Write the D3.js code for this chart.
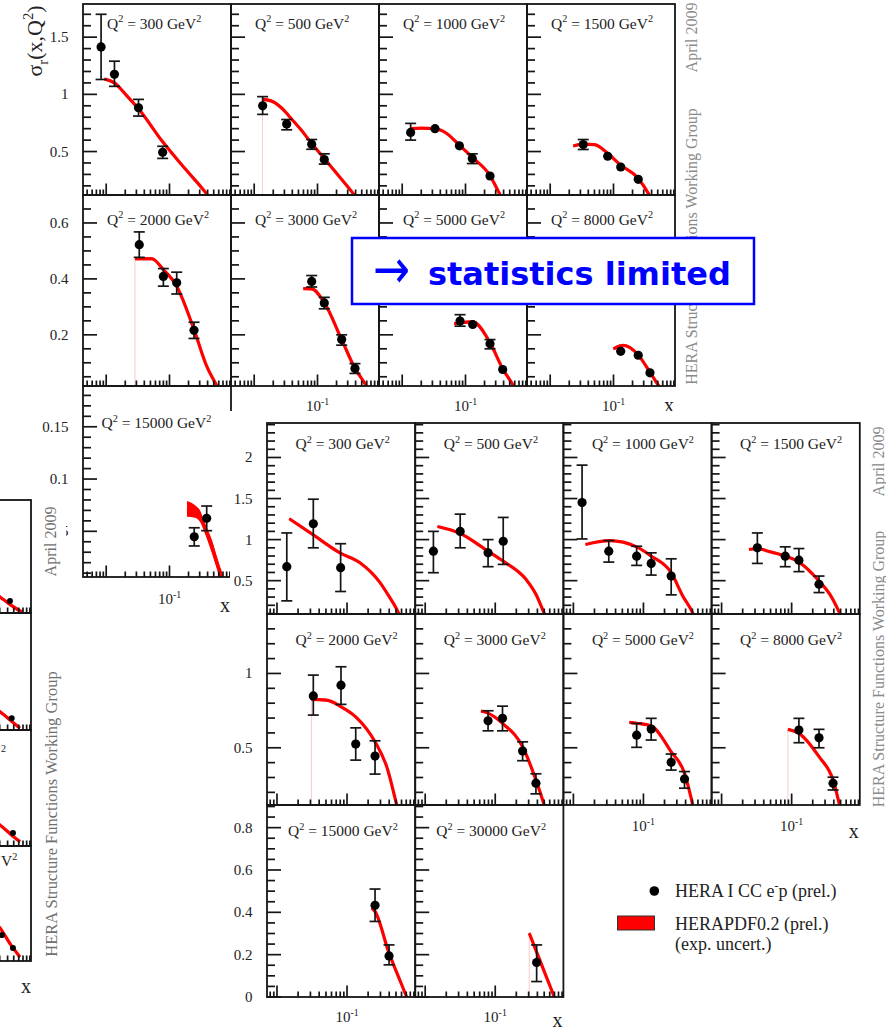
<!DOCTYPE html>
<html>
<head>
<meta charset="utf-8">
<script src="https://cdn.jsdelivr.net/npm/d3@7"></script>
<style>
  html, body { margin: 0; padding: 0; background: #fff; }
  svg { display: block; }
</style>
</head>
<body>
<svg id="chart" width="886" height="1032"></svg>
<script>
// ---------------------------------------------------------------
// HERA I charged-current reduced cross sections vs x, per Q^2 bin
// ---------------------------------------------------------------

// e+p figure
const plusQ2 = [300, 500, 1000, 1500, 2000, 3000, 5000, 8000, 15000];
// [Q2, x, sigma_r, lower, upper]
const plusPoints = [
  [300, 0.0083, 1.415, 1.13, 1.70],
  [300, 0.0135, 1.175, 1.07, 1.29],
  [300, 0.0324, 0.883, 0.81, 0.956],
  [300, 0.078, 0.494, 0.44, 0.546],
  [500, 0.0136, 0.90, 0.825, 0.98],
  [500, 0.0326, 0.74, 0.69, 0.78],
  [500, 0.081, 0.564, 0.52, 0.605],
  [500, 0.128, 0.43, 0.39, 0.48],
  [1000, 0.0136, 0.667, 0.60, 0.746],
  [1000, 0.033, 0.70, 0.667, 0.74],
  [1000, 0.080, 0.55, 0.54, 0.56],
  [1000, 0.128, 0.44, 0.395, 0.48],
  [1000, 0.244, 0.286, 0.25, 0.32],
  [1500, 0.0333, 0.561, 0.518, 0.605],
  [1500, 0.081, 0.459, 0.43, 0.483],
  [1500, 0.13, 0.365, 0.33, 0.40],
  [1500, 0.246, 0.257, 0.25, 0.264],
  [2000, 0.0333, 0.5225, 0.477, 0.568],
  [2000, 0.080, 0.409, 0.374, 0.437],
  [2000, 0.13, 0.386, 0.346, 0.424],
  [2000, 0.244, 0.216, 0.187, 0.245],
  [3000, 0.081, 0.391, 0.371, 0.412],
  [3000, 0.128, 0.314, 0.293, 0.334],
  [3000, 0.241, 0.183, 0.163, 0.20],
  [3000, 0.391, 0.08, 0.062, 0.097],
  [5000, 0.082, 0.249, 0.231, 0.272],
  [5000, 0.13, 0.237, 0.221, 0.249],
  [5000, 0.244, 0.168, 0.15, 0.183],
  [5000, 0.387, 0.076, 0.072, 0.080],
  [8000, 0.13, 0.141, 0.126, 0.157],
  [8000, 0.246, 0.127, 0.115, 0.139],
  [8000, 0.377, 0.064, 0.061, 0.067],
  [15000, 0.246, 0.0448, 0.036, 0.0534],
  [15000, 0.387, 0.0624, 0.0506, 0.0742]
];
// HERAPDF0.2 band: [Q2, x, central, half-width]
const plusFit = [
  [300, 0.0094, 1.134, 0.012], [300, 0.0135, 1.10, 0.012], [300, 0.0207, 0.994, 0.012],
  [300, 0.0336, 0.863, 0.012], [300, 0.078, 0.585, 0.012], [300, 0.184, 0.338, 0.012],
  [300, 0.38, 0.134, 0.012], [300, 0.43, 0.093, 0.012],
  [500, 0.0135, 0.956, 0.012], [500, 0.018, 0.945, 0.012], [500, 0.0326, 0.835, 0.012],
  [500, 0.0368, 0.80, 0.012], [500, 0.055, 0.69, 0.012], [500, 0.081, 0.57, 0.012],
  [500, 0.128, 0.44, 0.012], [500, 0.2, 0.31, 0.012], [500, 0.37, 0.13, 0.012], [500, 0.42, 0.09, 0.012],
  [1000, 0.0134, 0.70, 0.01], [1000, 0.02, 0.705, 0.01], [1000, 0.033, 0.70, 0.01],
  [1000, 0.05, 0.66, 0.01], [1000, 0.08, 0.555, 0.01], [1000, 0.128, 0.45, 0.01],
  [1000, 0.244, 0.29, 0.01], [1000, 0.35, 0.125, 0.01], [1000, 0.40, 0.07, 0.01],
  [1500, 0.0232, 0.549, 0.01], [1500, 0.0333, 0.565, 0.01], [1500, 0.05, 0.56, 0.01],
  [1500, 0.081, 0.484, 0.01], [1500, 0.13, 0.381, 0.01], [1500, 0.246, 0.265, 0.01],
  [1500, 0.355, 0.134, 0.01], [1500, 0.40, 0.08, 0.01],
  [2000, 0.0285, 0.472, 0.005], [2000, 0.0524, 0.472, 0.005], [2000, 0.08, 0.433, 0.005],
  [2000, 0.13, 0.374, 0.005], [2000, 0.244, 0.219, 0.005], [2000, 0.387, 0.088, 0.005],
  [2000, 0.556, 0.019, 0.005], [2000, 0.6, 0.005, 0.005],
  [3000, 0.0597, 0.365, 0.005], [3000, 0.081, 0.364, 0.005], [3000, 0.128, 0.315, 0.005],
  [3000, 0.241, 0.183, 0.005], [3000, 0.391, 0.08, 0.005], [3000, 0.584, 0.019, 0.005],
  [3000, 0.62, 0.008, 0.005],
  [5000, 0.0665, 0.24, 0.005], [5000, 0.082, 0.243, 0.005], [5000, 0.13, 0.246, 0.005],
  [5000, 0.244, 0.172, 0.005], [5000, 0.387, 0.079, 0.005], [5000, 0.569, 0.019, 0.005],
  [5000, 0.6, 0.01, 0.005],
  [8000, 0.10, 0.15, 0.005], [8000, 0.125, 0.16, 0.005], [8000, 0.143, 0.162, 0.005],
  [8000, 0.246, 0.128, 0.005], [8000, 0.377, 0.066, 0.005], [8000, 0.51, 0.02, 0.005],
  [8000, 0.55, 0.008, 0.005],
  [15000, 0.189, 0.0715, 0.0075], [15000, 0.253, 0.069, 0.006], [15000, 0.303, 0.0646, 0.0055],
  [15000, 0.363, 0.053, 0.005], [15000, 0.47, 0.035, 0.0065], [15000, 0.58, 0.017, 0.006],
  [15000, 0.675, 0.005, 0.006]
];
const plusYMajor = [[0.5, 1, 1.5], [0.2, 0.4, 0.6], [0.05, 0.1, 0.15]];
const plusYMinorStep = [0.1, 0.05, 0.01];
const plusYDomain = [[0.12, 1.79], [0.017, 0.70], [0.0063, 0.189]];
const plusXDomain = [0.0043, 0.937];
const plusDrop = [500, 2000];

// e-p figure
const minusQ2 = [300, 500, 1000, 1500, 2000, 3000, 5000, 8000, 15000, 30000];
const minusPoints = [
  [300, 0.0138, 0.67, 0.254, 1.081],
  [300, 0.033, 1.193, 0.90, 1.492],
  [300, 0.081, 0.658, 0.368, 0.95],
  [500, 0.0131, 0.859, 0.597, 1.10],
  [500, 0.0316, 1.10, 0.90, 1.31],
  [500, 0.079, 0.839, 0.67, 1.0],
  [500, 0.13, 0.98, 0.698, 1.27],
  [1000, 0.0133, 1.451, 1.008, 1.907],
  [1000, 0.032, 0.859, 0.726, 0.988],
  [1000, 0.080, 0.798, 0.686, 0.919],
  [1000, 0.129, 0.71, 0.568, 0.839],
  [1000, 0.249, 0.556, 0.327, 0.766],
  [1500, 0.0324, 0.90, 0.71, 1.081],
  [1500, 0.081, 0.798, 0.67, 0.912],
  [1500, 0.127, 0.75, 0.61, 0.891],
  [1500, 0.246, 0.456, 0.355, 0.556],
  [2000, 0.033, 0.849, 0.72, 0.989],
  [2000, 0.082, 0.921, 0.792, 1.045],
  [2000, 0.133, 0.525, 0.417, 0.634],
  [2000, 0.251, 0.444, 0.323, 0.547],
  [3000, 0.079, 0.681, 0.614, 0.749],
  [3000, 0.127, 0.698, 0.614, 0.78],
  [3000, 0.246, 0.478, 0.413, 0.54],
  [3000, 0.381, 0.262, 0.19, 0.325],
  [5000, 0.080, 0.585, 0.503, 0.664],
  [5000, 0.129, 0.626, 0.552, 0.698],
  [5000, 0.249, 0.402, 0.35, 0.458],
  [5000, 0.386, 0.29, 0.228, 0.34],
  [8000, 0.127, 0.619, 0.534, 0.698],
  [8000, 0.246, 0.567, 0.50, 0.624],
  [8000, 0.39, 0.261, 0.216, 0.302],
  [15000, 0.251, 0.433, 0.357, 0.51],
  [15000, 0.398, 0.194, 0.152, 0.246],
  [30000, 0.39, 0.163, 0.073, 0.246]
];
const minusFit = [
  [300, 0.015, 1.254, 0.012], [300, 0.033, 1.057, 0.012], [300, 0.079, 0.839, 0.012],
  [300, 0.153, 0.718, 0.012], [300, 0.296, 0.476, 0.012], [300, 0.39, 0.32, 0.012],
  [300, 0.51, 0.154, 0.012], [300, 0.56, 0.08, 0.012],
  [500, 0.015, 1.16, 0.012], [500, 0.0306, 1.08, 0.012], [500, 0.079, 0.859, 0.012],
  [500, 0.13, 0.738, 0.012], [500, 0.275, 0.516, 0.012], [500, 0.381, 0.335, 0.012],
  [500, 0.5, 0.105, 0.012], [500, 0.55, 0.03, 0.012],
  [1000, 0.0149, 0.94, 0.012], [1000, 0.02, 0.965, 0.012], [1000, 0.0327, 0.988, 0.012],
  [1000, 0.08, 0.912, 0.012], [1000, 0.129, 0.80, 0.012], [1000, 0.249, 0.597, 0.012],
  [1000, 0.364, 0.314, 0.012], [1000, 0.506, 0.105, 0.012], [1000, 0.55, 0.03, 0.012],
  [1500, 0.0246, 0.879, 0.012], [1500, 0.0324, 0.89, 0.012], [1500, 0.05, 0.85, 0.012],
  [1500, 0.081, 0.80, 0.012], [1500, 0.127, 0.726, 0.012], [1500, 0.246, 0.496, 0.012],
  [1500, 0.35, 0.335, 0.012], [1500, 0.484, 0.105, 0.012], [1500, 0.53, 0.03, 0.012],
  [2000, 0.031, 0.825, 0.008], [2000, 0.0512, 0.82, 0.008], [2000, 0.082, 0.776, 0.008],
  [2000, 0.133, 0.708, 0.008], [2000, 0.251, 0.54, 0.008], [2000, 0.369, 0.372, 0.008],
  [2000, 0.513, 0.115, 0.008], [2000, 0.55, 0.06, 0.008],
  [3000, 0.0625, 0.747, 0.008], [3000, 0.079, 0.733, 0.008], [3000, 0.127, 0.664, 0.008],
  [3000, 0.246, 0.507, 0.008], [3000, 0.381, 0.283, 0.008], [3000, 0.5, 0.115, 0.008],
  [3000, 0.55, 0.05, 0.008],
  [5000, 0.063, 0.671, 0.008], [5000, 0.08, 0.665, 0.008], [5000, 0.129, 0.646, 0.008],
  [5000, 0.249, 0.473, 0.008], [5000, 0.386, 0.328, 0.008], [5000, 0.506, 0.115, 0.008],
  [5000, 0.55, 0.04, 0.008],
  [8000, 0.0885, 0.624, 0.008], [8000, 0.127, 0.597, 0.008], [8000, 0.246, 0.44, 0.008],
  [8000, 0.39, 0.283, 0.008], [8000, 0.484, 0.115, 0.008], [8000, 0.53, 0.04, 0.008],
  [15000, 0.225, 0.42, 0.006], [15000, 0.251, 0.404, 0.006], [15000, 0.398, 0.207, 0.006],
  [15000, 0.513, 0.115, 0.006], [15000, 0.71, 0.0, 0.006], [15000, 0.75, -0.02, 0.006],
  [30000, 0.306, 0.302, 0.006], [30000, 0.39, 0.212, 0.006], [30000, 0.53, 0.10, 0.006],
  [30000, 0.696, 0.0, 0.006], [30000, 0.75, -0.03, 0.006]
];
const minusYMajor = [[0.5, 1, 1.5, 2], [0.5, 1], [0, 0.2, 0.4, 0.6, 0.8]];
const minusYMinorStep = [0.1, 0.1, 0.05];
const minusYDomain = [[0.094, 2.42], [0.115, 1.40], [0, 0.907]];
const minusXDomain = [0.0072, 0.94];
const minusDrop = [2000, 8000, 30000];

// right-hand column of the neighbouring figure (mostly out of view)
// band: [row, x, central], points: [row, x, value]; values as fractions of the row height
const sideFit = [
  [0, 0.146, 0.26], [0, 0.303, 0.142], [0, 0.45, 0.07], [0, 0.675, 0.009],
  [1, 0.176, 0.22], [1, 0.303, 0.156], [1, 0.45, 0.08], [1, 0.627, 0.015],
  [2, 0.176, 0.25], [2, 0.303, 0.181], [2, 0.45, 0.10], [2, 0.627, 0.037],
  [3, 0.176, 0.40], [3, 0.303, 0.287], [3, 0.45, 0.14], [3, 0.627, 0.035]
];
const sidePoints = [
  [0, 0.436, 0.106], [1, 0.464, 0.10], [2, 0.486, 0.112], [3, 0.326, 0.226], [3, 0.486, 0.113]
];

const legendLabels = ["HERA I CC e", "p (prel.)", "HERAPDF0.2 (prel.)", "(exp. uncert.)"];
const groupCredit = "HERA Structure Functions Working Group";
const dateCredit = "April 2009";

// ---------------------------------------------------------------
const SERIF = "'Liberation Serif','Times New Roman',Times,serif";
const INK = "#151515";
const RED = "#ff0000";
const fmt = d3.format("~g");
const svg = d3.select("#chart");
svg.append("rect").attr("width", 886).attr("height", 1032).attr("fill", "#fff");

// text with super/subscript runs
function rich(sel, parts, size) {
  let shift = 0;
  parts.forEach(p => {
    const target = p.sup ? -0.4 * size : p.sub ? 0.28 * size : 0;
    const ts = sel.append("tspan").text(p.t).attr("dy", target - shift);
    if (p.sup || p.sub) ts.attr("font-size", size * 0.66);
    shift = target;
  });
  return sel;
}

function logTicks(domain) {
  const out = [];
  for (let e = -3; e <= 0; e++) for (let m = 1; m <= 9; m++) {
    const v = m * Math.pow(10, e);
    if (v >= domain[0] && v <= domain[1]) out.push([v, m === 1]);
  }
  return out;
}

function drawBand(g, cid, x, y, fit, halfWidth) {
  const band = d3.area().x(d => x(d[1])).y0(d => y(d[2] - halfWidth(d))).y1(d => y(d[2] + halfWidth(d)))
    .curve(d3.curveMonotoneX);
  const mid = d3.line().x(d => x(d[1])).y(d => y(d[2])).curve(d3.curveMonotoneX);
  const bg = g.append("g").attr("clip-path", `url(#${cid})`);
  bg.append("path").attr("d", band(fit)).attr("fill", RED);
  bg.append("path").attr("d", mid(fit)).attr("fill", "none").attr("stroke", RED).attr("stroke-width", 3.2);
}

let clipId = 0;
function drawFigure(root, f) {
  const n = f.q2.length;
  f.q2.forEach((q2, i) => {
    const r = Math.floor(i / 4), c = i % 4;
    const x0 = f.left + c * f.pw, x1 = x0 + f.pw;
    const y0 = f.rows[r], y1 = f.rows[r + 1];
    const x = d3.scaleLog().domain(f.xDomain).range([x0, x1]);
    const y = d3.scaleLinear().domain(f.yDomain[r]).range([y1, y0]);
    const g = root.append("g");

    const cid = "clip" + (clipId++);
    g.append("clipPath").attr("id", cid).append("rect")
      .attr("x", x0).attr("y", y0).attr("width", f.pw).attr("height", y1 - y0);

    // faint edge of the band reaching down to the axis
    const fit = f.fit.filter(d => d[0] === q2);
    if (f.drop.includes(q2)) {
      g.append("line").attr("x1", x(fit[0][1])).attr("x2", x(fit[0][1]))
        .attr("y1", y(fit[0][2])).attr("y2", y1)
        .attr("stroke", "#ffc8c8").attr("stroke-width", 1);
    }
    drawBand(g, cid, x, y, fit, d => d[3]);

    // y ticks
    const [lo, hi] = f.yDomain[r];
    const step = f.yMinor[r];
    const majors = f.yMajor[r];
    const majStep = majors[1] - majors[0];
    const minors = d3.range(Math.ceil(lo / step - 1e-6), Math.floor(hi / step + 1e-6) + 1)
      .map(k => +(k * step).toFixed(6));
    minors.forEach(v => {
      const isMaj = Math.abs(v / majStep - Math.round(v / majStep)) < 1e-6;
      g.append("line").attr("x1", x0).attr("x2", x0 + (isMaj ? 14 : 8))
        .attr("y1", y(v)).attr("y2", y(v)).attr("stroke", INK).attr("stroke-width", 1.7);
    });
    if (c === 0) {
      majors.forEach(v => {
        g.append("text").attr("x", x0 - 14.5).attr("y", y(v) + 5).attr("text-anchor", "end")
          .attr("font-family", SERIF).attr("font-size", 15).attr("fill", "#222").text(fmt(v));
      });
    }

    // x ticks (log)
    logTicks(f.xDomain).forEach(([v, maj]) => {
      g.append("line").attr("x1", x(v)).attr("x2", x(v)).attr("y1", y1).attr("y2", y1 - (maj ? 11.5 : 5.5))
        .attr("stroke", INK).attr("stroke-width", 1.7);
    });
    const noneBelow = i + 4 >= n;
    if (noneBelow) {
      const t = g.append("text").attr("x", x(0.1)).attr("y", y1 + f.tickLabelDy[r])
        .attr("text-anchor", "middle").attr("font-family", SERIF).attr("font-size", 15).attr("fill", "#222");
      rich(t, [{ t: "10" }, { t: "-1", sup: 1 }], 15);
      if (c === 3 || i === n - 1) {
        g.append("text").attr("x", x1 - 6).attr("y", y1 + f.xTitleDy[r]).attr("text-anchor", "middle")
          .attr("font-family", SERIF).attr("font-size", 20).attr("fill", "#222").text("x");
      }
    }

    // frame
    g.append("rect").attr("x", x0).attr("y", y0).attr("width", f.pw).attr("height", y1 - y0)
      .attr("fill", "none").attr("stroke", INK).attr("stroke-width", 1.8);

    // bin label
    const lx = x0 + f.labelDx - (String(q2).length >= 5 ? f.wideShift : 0);
    const lt = g.append("text").attr("x", lx).attr("y", y0 + f.labelDy[r])
      .attr("font-family", SERIF).attr("font-size", 15.5).attr("fill", "#222");
    rich(lt, [{ t: "Q" }, { t: "2", sup: 1 }, { t: " = " + q2 + " GeV" }, { t: "2", sup: 1 }], 15.5);

    // data points
    f.points.filter(d => d[0] === q2).forEach(d => {
      const px = x(d[1]), py = y(d[2]);
      const ylo = y(d[3]), yhi = y(d[4]);
      if (ylo - yhi > 9) {
        g.append("line").attr("x1", px).attr("x2", px).attr("y1", ylo).attr("y2", yhi)
          .attr("stroke", INK).attr("stroke-width", 1.7);
        [ylo, yhi].forEach(yy => g.append("line").attr("x1", px - 5.5).attr("x2", px + 5.5)
          .attr("y1", yy).attr("y2", yy).attr("stroke", INK).attr("stroke-width", 1.7));
      }
      g.append("circle").attr("cx", px).attr("cy", py).attr("r", 4.6).attr("fill", "#000");
    });
  });
}

function creditText(root, x, yMid, text, size, color) {
  root.append("text").attr("transform", `translate(${x},${yMid}) rotate(-90)`)
    .attr("text-anchor", "middle").attr("font-family", SERIF).attr("font-size", size)
    .attr("fill", color).text(text);
}

// ---------------- e+p figure ----------------
const gPlus = svg.append("g");
drawFigure(gPlus, {
  q2: plusQ2, points: plusPoints, fit: plusFit, drop: plusDrop,
  left: 83, pw: 148, rows: [4, 195, 386, 577],
  xDomain: plusXDomain, yDomain: plusYDomain, yMajor: plusYMajor, yMinor: plusYMinorStep,
  labelDx: 24, wideShift: 5.5, labelDy: [24.5, 29.5, 42],
  tickLabelDy: [25, 24.5, 26.5], xTitleDy: [30, 26, 35]
});
{
  const t = gPlus.append("text").attr("transform", "translate(42,41) rotate(-90)")
    .attr("text-anchor", "middle").attr("font-family", SERIF).attr("font-size", 22).attr("fill", "#222");
  rich(t, [{ t: "σ" }, { t: "r", sub: 1 }, { t: "(x,Q" }, { t: "2", sup: 1 }, { t: ")" }], 22);
}
creditText(gPlus, 697, 37.5, dateCredit, 16, "#8a8a8a");
creditText(gPlus, 697, 246.5, groupCredit, 16, "#8a8a8a");

// ---------------- neighbouring figure, right column only ----------------
const gSide = svg.append("g");
gSide.append("rect").attr("x", 0).attr("y", 490).attr("width", 66).attr("height", 542).attr("fill", "#fff");
{
  const sideRows = [500, 613, 730, 846, 961];
  const sx0 = 31 - 148, sx1 = 31;
  const sx = d3.scaleLog().domain(plusXDomain).range([sx0, sx1]);
  for (let r = 0; r < 4; r++) {
    const y0 = sideRows[r], y1 = sideRows[r + 1];
    const sy = d3.scaleLinear().domain([0, 1]).range([y1, y0]);
    const g = gSide.append("g");
    const cid = "clip" + (clipId++);
    g.append("clipPath").attr("id", cid).append("rect")
      .attr("x", 0).attr("y", y0).attr("width", sx1).attr("height", y1 - y0);
    drawBand(g, cid, sx, sy, sideFit.filter(d => d[0] === r), () => 0.012);
    logTicks(plusXDomain).forEach(([v, maj]) => {
      g.append("line").attr("x1", sx(v)).attr("x2", sx(v)).attr("y1", y1).attr("y2", y1 - (maj ? 11.5 : 5.5))
        .attr("stroke", INK).attr("stroke-width", 1.7);
    });
    g.append("rect").attr("x", sx0).attr("y", y0).attr("width", 148).attr("height", y1 - y0)
      .attr("fill", "none").attr("stroke", INK).attr("stroke-width", 1.8);
    sidePoints.filter(d => d[0] === r).forEach(d => {
      g.append("circle").attr("cx", sx(d[1])).attr("cy", sy(d[2])).attr("r", 3).attr("fill", "#000");
    });
  }
  // visible tails of the bin labels in the two lower rows
  gSide.append("text").attr("x", 1).attr("y", 752).attr("font-family", SERIF)
    .attr("font-size", 10).attr("fill", "#222").text("2");
  const t3 = gSide.append("text").attr("x", 1).attr("y", 866).attr("font-family", SERIF)
    .attr("font-size", 15.5).attr("fill", "#222");
  rich(t3, [{ t: "V" }, { t: "2", sup: 1 }], 15.5);
}
creditText(gSide, 56, 541.5, dateCredit, 16, "#707070");
creditText(gSide, 57, 814, groupCredit, 16.5, "#707070");
gSide.append("text").attr("x", 26).attr("y", 993).attr("text-anchor", "middle")
  .attr("font-family", SERIF).attr("font-size", 20).attr("fill", "#222").text("x");

// ---------------- e-p figure ----------------
const gMinus = svg.append("g");
gMinus.append("rect").attr("x", 230).attr("y", 411).attr("width", 656).attr("height", 621).attr("fill", "#fff");
drawFigure(gMinus, {
  q2: minusQ2, points: minusPoints, fit: minusFit, drop: minusDrop,
  left: 267, pw: 148.2, rows: [423, 614, 805, 997],
  xDomain: minusXDomain, yDomain: minusYDomain, yMajor: minusYMajor, yMinor: minusYMinorStep,
  labelDx: 28.5, wideShift: 7.5, labelDy: [26.3, 31, 31],
  tickLabelDy: [25, 26, 25], xTitleDy: [33, 33, 30]
});
creditText(gMinus, 884, 461.5, dateCredit, 16, "#8a8a8a");
creditText(gMinus, 884, 669, groupCredit, 16, "#8a8a8a");

// legend
{
  const lg = gMinus.append("g");
  lg.append("circle").attr("cx", 654.3).attr("cy", 891).attr("r", 4.8).attr("fill", "#000");
  const t1 = lg.append("text").attr("x", 675).attr("y", 897).attr("font-family", SERIF)
    .attr("font-size", 18).attr("fill", "#222");
  rich(t1, [{ t: legendLabels[0] }, { t: "-", sup: 1 }, { t: legendLabels[1] }], 18);
  lg.append("rect").attr("x", 617.5).attr("y", 916).attr("width", 37).attr("height", 14)
    .attr("fill", RED).attr("stroke", "#333").attr("stroke-width", 1);
  lg.append("text").attr("x", 675).attr("y", 929.5).attr("font-family", SERIF)
    .attr("font-size", 18).attr("fill", "#222").text(legendLabels[2]);
  lg.append("text").attr("x", 675).attr("y", 950).attr("font-family", SERIF)
    .attr("font-size", 18).attr("fill", "#222").text(legendLabels[3]);
}

// ---------------- call-out ----------------
{
  const co = svg.append("g");
  co.append("rect").attr("x", 352).attr("y", 238).attr("width", 402).attr("height", 66)
    .attr("fill", "#fff").attr("stroke", "#0000ff").attr("stroke-width", 2.5);
  // arrow glyph stretched to the width of the printed arrow
  co.append("text").attr("transform", "translate(373,288) scale(1.3,1.6)")
    .attr("font-family", "'DejaVu Sans',sans-serif").attr("font-size", 34)
    .attr("fill", "#0000ff").text("→");
  co.append("text").attr("x", 428).attr("y", 285).attr("font-family", "'Comic Sans MS','DejaVu Sans',sans-serif")
    .attr("font-weight", "bold").attr("font-size", 32).attr("fill", "#0000ff").text("statistics limited");
}
</script>
</body>
</html>
